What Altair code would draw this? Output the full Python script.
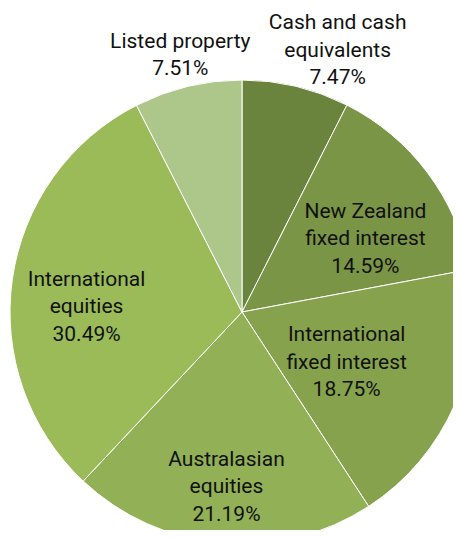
import altair as alt
import pandas as pd

categories = ["Cash and cash equivalents", "New Zealand fixed interest",
              "International fixed interest", "Australasian equities",
              "International equities", "Listed property"]
label_lines = [["Cash and cash", "equivalents"], ["New Zealand", "fixed interest"],
               ["International", "fixed interest"], ["Australasian", "equities"],
               ["International", "equities"], ["Listed property"]]
values = [7.47, 14.59, 18.75, 21.19, 30.49, 7.51]
colors = ["#6b843d", "#7b9546", "#87a24c", "#92b056", "#9bbb59", "#adc68a"]

df = pd.DataFrame({
    "category": categories,
    "value": values,
    "order": list(range(len(categories))),
    "label": [lines + [f"{v:.2f}%"] for lines, v in zip(label_lines, values)],
})

CX, CY, R = 234, 304, 232
FONT = "Roboto"
LH = 27.5

# label placement (radius from centre, fine offsets)
label_pos = {
    "Cash and cash equivalents": (278, 31, 9),
    "New Zealand fixed interest": (143, 9, 13),
    "International fixed interest": (116, -2, 5),
    "Australasian equities": (176, 0, 0),
    "International equities": (156, -1, 17),
    "Listed property": (264, 0, 0),
}

theta_scale = alt.Scale(domain=[0, 100])

base = alt.Chart(df)

arcs = base.mark_arc(outerRadius=R, stroke="white", strokeWidth=1).encode(
    theta=alt.Theta("value:Q", stack=True, scale=theta_scale),
    order=alt.Order("order:Q"),
    color=alt.Color("category:N", scale=alt.Scale(domain=categories, range=colors), legend=None),
    x=alt.value(CX),
    y=alt.value(CY),
)

mid_base = base.transform_window(
    cum="sum(value)", sort=[alt.SortField("order")]
).transform_calculate(mid="datum.cum - datum.value / 2")

layers = [arcs]
for cat, lines in zip(categories, label_lines):
    r, dx, dy = label_pos[cat]
    n = len(lines) + 1
    layers.append(
        mid_base.transform_filter(alt.datum.category == cat).mark_text(
            radius=r, dx=dx, dy=dy - (n - 1) * LH / 2, font=FONT, fontSize=21, lineHeight=LH,
            align="center", baseline="middle", color="#111111",
        ).encode(
            theta=alt.Theta("mid:Q", stack=False, scale=theta_scale),
            text="label",
            x=alt.value(CX),
            y=alt.value(CY),
        )
    )

chart = alt.layer(*layers).properties(
    width=445, height=522, padding=0, autosize=alt.AutoSizeParams(type="none")
).configure_view(stroke=None)

chart.save("out.html", embed_options={"renderer": "svg", "actions": False})
